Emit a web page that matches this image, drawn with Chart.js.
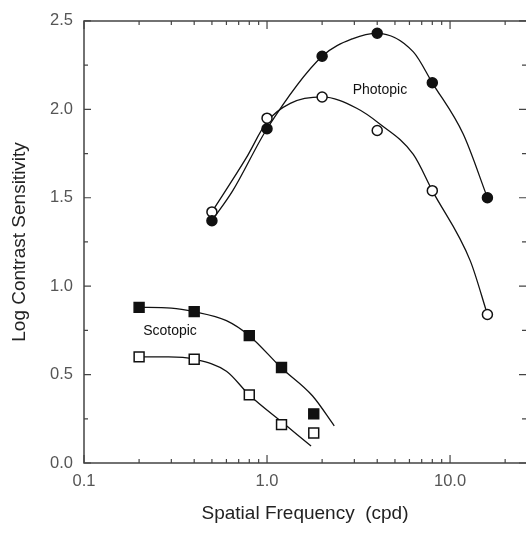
<!DOCTYPE html>
<html>
<head>
<meta charset="utf-8">
<script src="https://cdn.jsdelivr.net/npm/chart.js@4.4.1/dist/chart.umd.min.js"></script>
<style>
  html, body { margin: 0; padding: 0; background: #fff; overflow: hidden; }
  #wrap { width: 526px; height: 533px; position: relative; }
  canvas { display: block; }
</style>
</head>
<body>
<div id="wrap"><canvas id="csfChart"></canvas></div>
<script>
// Measured points (spatial frequency in cpd, log contrast sensitivity)
const PHOT_X = [0.5, 1.0, 2.0, 4.0, 8.0, 16.0];
const PHOT_FILLED = [1.37, 1.89, 2.30, 2.43, 2.15, 1.50];
const PHOT_OPEN = [1.42, 1.95, 2.07, 1.88, 1.54, 0.84];

const SCOT_X = [0.2, 0.4, 0.8, 1.2, 1.8];
const SCOT_FILLED = [0.88, 0.856, 0.72, 0.54, 0.278];
const SCOT_OPEN = [0.60, 0.587, 0.385, 0.217, 0.17];

// Smooth fitted curves
const PHOT_FILLED_CURVE_X = [0.5, 0.65, 1.0, 2.0, 2.95, 4.0, 6.3, 8.0, 11.8, 16.0];
const PHOT_FILLED_CURVE_Y = [1.37, 1.54, 1.89, 2.30, 2.40, 2.43, 2.325, 2.15, 1.86, 1.50];
const PHOT_OPEN_CURVE_X = [0.5, 0.77, 1.0, 1.34, 2.0, 3.09, 4.1, 6.3, 8.0, 12.9, 16.0];
const PHOT_OPEN_CURVE_Y = [1.42, 1.725, 1.93, 2.034, 2.07, 2.006, 1.92, 1.745, 1.54, 1.143, 0.84];
const SCOT_FILLED_CURVE_X = [0.2, 0.3, 0.4, 0.6, 0.8, 1.2, 1.77, 2.33];
const SCOT_FILLED_CURVE_Y = [0.88, 0.876, 0.856, 0.805, 0.72, 0.537, 0.38, 0.21];
const SCOT_OPEN_CURVE_X = [0.2, 0.29, 0.4, 0.6, 0.8, 1.24, 1.74];
const SCOT_OPEN_CURVE_Y = [0.60, 0.60, 0.587, 0.519, 0.385, 0.222, 0.096];

const X_TICKS = [0.1, 1, 10];
const Y_TICKS = [0, 0.5, 1.0, 1.5, 2.0, 2.5];

const FONT = "'Liberation Sans', Arial, sans-serif";

function pts(xs, ys) { return xs.map((x, i) => ({ x: x, y: ys[i] })); }

function curve(xs, ys) {
  return {
    data: pts(xs, ys), showLine: true, pointRadius: 0, borderColor: "#111",
    borderWidth: 1.3, cubicInterpolationMode: "monotone", fill: false, order: 2
  };
}

function markers(xs, ys, style, filled) {
  return {
    data: pts(xs, ys), showLine: false, pointStyle: style,
    pointRadius: style === "rect" ? 7 : 5,
    pointBackgroundColor: filled ? "#111" : "#fff",
    pointBorderColor: "#111", pointBorderWidth: 1.5, order: 1
  };
}

// frame (right side falls off the picture), inward ticks and text labels
const framePlugin = {
  id: "frame",
  afterDraw(chart) {
    const { ctx, chartArea: a, scales: { x, y } } = chart;
    ctx.save();
    ctx.strokeStyle = "#444";
    ctx.lineWidth = 1.5;
    ctx.beginPath();
    ctx.moveTo(a.right + 2, a.top);
    ctx.lineTo(a.left, a.top);
    ctx.lineTo(a.left, a.bottom);
    ctx.lineTo(a.right + 2, a.bottom);
    ctx.stroke();

    ctx.lineWidth = 1.2;
    ctx.beginPath();
    for (let d = 0.1; d < 100; d *= 10) {
      for (let m = 1; m <= 9; m++) {
        const v = d * m;
        if (v < x.min - 1e-9 || v > x.max) continue;
        const px = x.getPixelForValue(v);
        const len = m === 1 ? 8 : 4;
        ctx.moveTo(px, a.bottom); ctx.lineTo(px, a.bottom - len);
        ctx.moveTo(px, a.top); ctx.lineTo(px, a.top + len);
      }
    }
    for (let k = 0; k <= 10; k++) {
      const v = k * 0.25;
      const py = y.getPixelForValue(v);
      const len = k % 2 === 0 ? 7 : 4;
      ctx.moveTo(a.left, py); ctx.lineTo(a.left + len, py);
      ctx.moveTo(a.right, py); ctx.lineTo(a.right - len, py);
    }
    ctx.stroke();

    ctx.fillStyle = "#111";
    ctx.font = "14px " + FONT;
    ctx.textAlign = "center";
    ctx.textBaseline = "middle";
    ctx.fillText("Photopic", x.getPixelForValue(4.14), y.getPixelForValue(2.106));
    ctx.fillText("Scotopic", x.getPixelForValue(0.295), y.getPixelForValue(0.743));
    ctx.restore();
  }
};

new Chart(document.getElementById("csfChart"), {
  type: "scatter",
  data: {
    datasets: [
      curve(PHOT_FILLED_CURVE_X, PHOT_FILLED_CURVE_Y),
      curve(PHOT_OPEN_CURVE_X, PHOT_OPEN_CURVE_Y),
      curve(SCOT_FILLED_CURVE_X, SCOT_FILLED_CURVE_Y),
      curve(SCOT_OPEN_CURVE_X, SCOT_OPEN_CURVE_Y),
      markers(PHOT_X, PHOT_FILLED, "circle", true),
      markers(PHOT_X, PHOT_OPEN, "circle", false),
      markers(SCOT_X, SCOT_FILLED, "rect", true),
      markers(SCOT_X, SCOT_OPEN, "rect", false)
    ]
  },
  options: {
    responsive: true,
    maintainAspectRatio: false,
    animation: false,
    layout: { autoPadding: false, padding: { top: 19, right: 0, left: 0, bottom: 0 } },
    plugins: { legend: { display: false }, tooltip: { enabled: false } },
    scales: {
      x: {
        type: "logarithmic", min: 0.1, max: 26,
        grid: { display: false, drawTicks: false }, border: { display: false },
        afterBuildTicks: s => { s.ticks = X_TICKS.map(v => ({ value: v })); },
        afterFit: s => { s.height = 70; s.paddingLeft = 0; s.paddingRight = 0; },
        ticks: {
          color: "#555", font: { family: FONT, size: 16.5 }, padding: 9,
          maxRotation: 0, autoSkip: false,
          callback: v => v.toFixed(1)
        },
        title: {
          display: true, text: "Spatial Frequency  (cpd)", color: "#222",
          font: { family: FONT, size: 19 }, padding: { top: 4, bottom: 8 }
        }
      },
      y: {
        min: 0, max: 2.5,
        grid: { display: false, drawTicks: false }, border: { display: false },
        afterBuildTicks: s => { s.ticks = Y_TICKS.map(v => ({ value: v })); },
        afterFit: s => { s.width = 84; },
        ticks: {
          color: "#555", font: { family: FONT, size: 16.5 }, padding: 11,
          callback: v => v.toFixed(1)
        },
        title: {
          display: true, text: "Log Contrast Sensitivity", color: "#222",
          font: { family: FONT, size: 19 }, padding: { top: 8, bottom: 4 }
        }
      }
    }
  },
  plugins: [framePlugin]
});
</script>
</body>
</html>
